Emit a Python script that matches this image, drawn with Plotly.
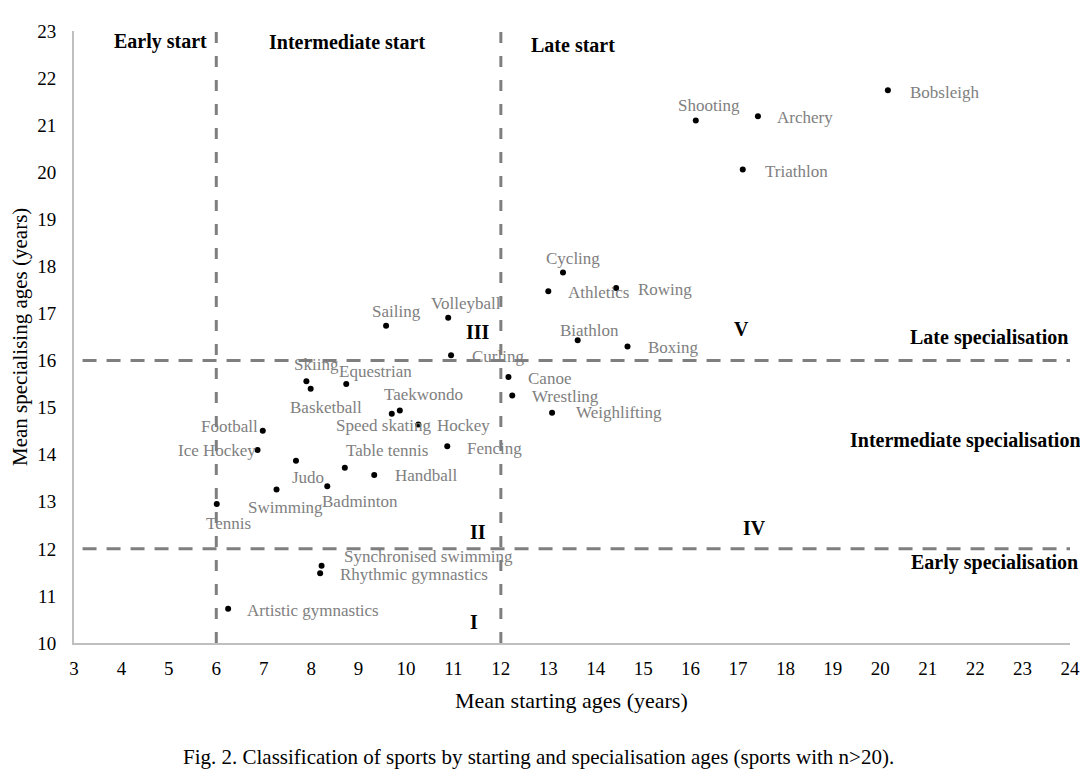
import plotly.graph_objects as go

# sports with mean starting age (x) and mean specialising age (y)
sports = ["Bobsleigh", "Shooting", "Archery", "Triathlon", "Cycling", "Athletics",
          "Rowing", "Biathlon", "Boxing", "Canoe", "Wrestling", "Weighlifting",
          "Sailing", "Volleyball", "Curling", "Skiing", "Equestrian", "Basketball",
          "Taekwondo", "Speed skating", "Hockey", "Fencing", "Football", "Ice Hockey",
          "Judo", "Table tennis", "Handball", "Badminton", "Swimming", "Tennis",
          "Synchronised swimming", "Rhythmic gymnastics", "Artistic gymnastics"]
start_age = [20.16, 16.11, 17.42, 17.10, 13.31, 13.00,
             14.43, 13.62, 14.67, 12.16, 12.24, 13.08,
             9.58, 10.89, 10.95, 7.90, 8.74, 7.99,
             9.87, 9.70, 10.26, 10.87, 6.98, 6.87,
             7.68, 8.71, 9.33, 8.34, 7.27, 6.01,
             8.22, 8.19, 6.25]
spec_age = [21.74, 21.10, 21.19, 20.06, 17.87, 17.47,
            17.54, 16.43, 16.30, 15.65, 15.26, 14.89,
            16.74, 16.91, 16.11, 15.56, 15.50, 15.40,
            14.94, 14.87, 14.64, 14.18, 14.51, 14.10,
            13.87, 13.72, 13.57, 13.33, 13.26, 12.95,
            11.64, 11.48, 10.73]

# label placement: (anchor, x shift px, y shift px)
label_pos = [("left", 20, -2), ("center", 13, 15), ("left", 17, -1), ("left", 20, -2),
             ("center", 10, 14), ("left", 18, -1), ("left", 20, -1), ("center", 12, 10),
             ("left", 19, -1), ("left", 18, -1), ("left", 18, -1), ("left", 22, 0),
             ("center", 10, 14), ("center", 18, 14), ("left", 19, -1), ("center", 10, 17),
             ("center", 29, 13), ("center", 15, -19), ("center", 24, 16), ("center", -8, -12),
             ("left", 17, -1), ("left", 18, -2), ("right", -3, 4), ("right", 0, -1),
             ("center", 12, -17), ("center", 42, 17), ("left", 19, -1), ("center", 33, -15),
             ("center", 9, -18), ("center", 12, -19), ("left", 20, 9), ("left", 18, -1),
             ("left", 17, -2)]

x_ticks = list(range(3, 25))
y_ticks = list(range(10, 24))
start_cuts = [6, 12]
spec_cuts = [12, 16]

serif = "Liberation Serif, Times New Roman, serif"
grey_txt = "#808080"
dash_col = "#7f7f7f"

fig = go.Figure()
fig.add_trace(go.Scatter(x=start_age, y=spec_age, mode="markers",
                         marker=dict(color="black", size=6),
                         hoverinfo="text", text=sports, showlegend=False))

for name, x, y, (anc, dx, dy) in zip(sports, start_age, spec_age, label_pos):
    fig.add_annotation(x=x, y=y, text=name, showarrow=False, xanchor=anc,
                       yanchor="middle", xshift=dx, yshift=dy,
                       font=dict(family=serif, size=17, color=grey_txt))

for c in start_cuts:
    fig.add_shape(type="line", x0=c, x1=c, y0=10, y1=23, xref="x", yref="y",
                  line=dict(color=dash_col, width=3, dash="11px,13px"))
for c in spec_cuts:
    fig.add_shape(type="line", x0=3.18, x1=24, y0=c, y1=c, xref="x", yref="y",
                  line=dict(color=dash_col, width=3, dash="14px,10px"))

bold = dict(family=serif, size=20, color="black")
# zone headings: text, x, y, anchor, x shift px
zones = [("<b>Early start</b>", 4.82, 22.77, "center", 0),
         ("<b>Intermediate start</b>", 8.75, 22.77, "center", 0),
         ("<b>Late start</b>", 13.52, 22.70, "center", 0),
         ("<b>Late specialisation</b>", 24.0, 16.50, "right", 0),
         ("<b>Intermediate specialisation</b>", 24.0, 14.31, "right", 13),
         ("<b>Early specialisation</b>", 24.0, 11.70, "right", 10),
         ("<b>III</b>", 11.51, 16.61, "center", 0),
         ("<b>V</b>", 17.08, 16.67, "center", 0),
         ("<b>II</b>", 11.51, 12.36, "center", 0),
         ("<b>IV</b>", 17.34, 12.44, "center", 0),
         ("<b>I</b>", 11.43, 10.45, "center", 0)]
for t, x, y, anc, dx in zones:
    fig.add_annotation(x=x, y=y, text=t, showarrow=False, xanchor=anc,
                       yanchor="middle", xshift=dx, font=bold)

# axis titles and caption
fig.add_annotation(xref="paper", yref="paper", x=0.499, y=0, yanchor="middle",
                   yshift=-57, text="Mean starting ages (years)", showarrow=False,
                   font=dict(family=serif, size=22, color="black"))
fig.add_annotation(xref="paper", yref="paper", x=0, y=0.5, xanchor="center",
                   xshift=-54, textangle=-90, text="Mean specialising ages (years)",
                   showarrow=False, font=dict(family=serif, size=21, color="black"))
fig.add_annotation(xref="paper", yref="paper", x=0.466, y=0, yanchor="middle",
                   yshift=-114, showarrow=False,
                   text="Fig. 2. Classification of sports by starting and specialisation ages (sports with n>20).",
                   font=dict(family=serif, size=21, color="black"))

fig.update_xaxes(range=[3, 24], tickvals=x_ticks, showgrid=False, zeroline=False,
                 showline=True, linecolor="#bfbfbf", linewidth=2, ticks="",
                 ticklabelstandoff=7, tickfont=dict(family=serif, size=19, color="black"))
fig.update_yaxes(range=[10, 23], tickvals=y_ticks, showgrid=False, zeroline=False,
                 showline=True, linecolor="#bfbfbf", linewidth=2, ticks="",
                 ticklabelstandoff=12, tickfont=dict(family=serif, size=19, color="black"))

fig.update_layout(width=1088, height=780, plot_bgcolor="white", paper_bgcolor="white",
                  margin=dict(l=66, r=26, t=23, b=145))

fig.write_html("out.html")
